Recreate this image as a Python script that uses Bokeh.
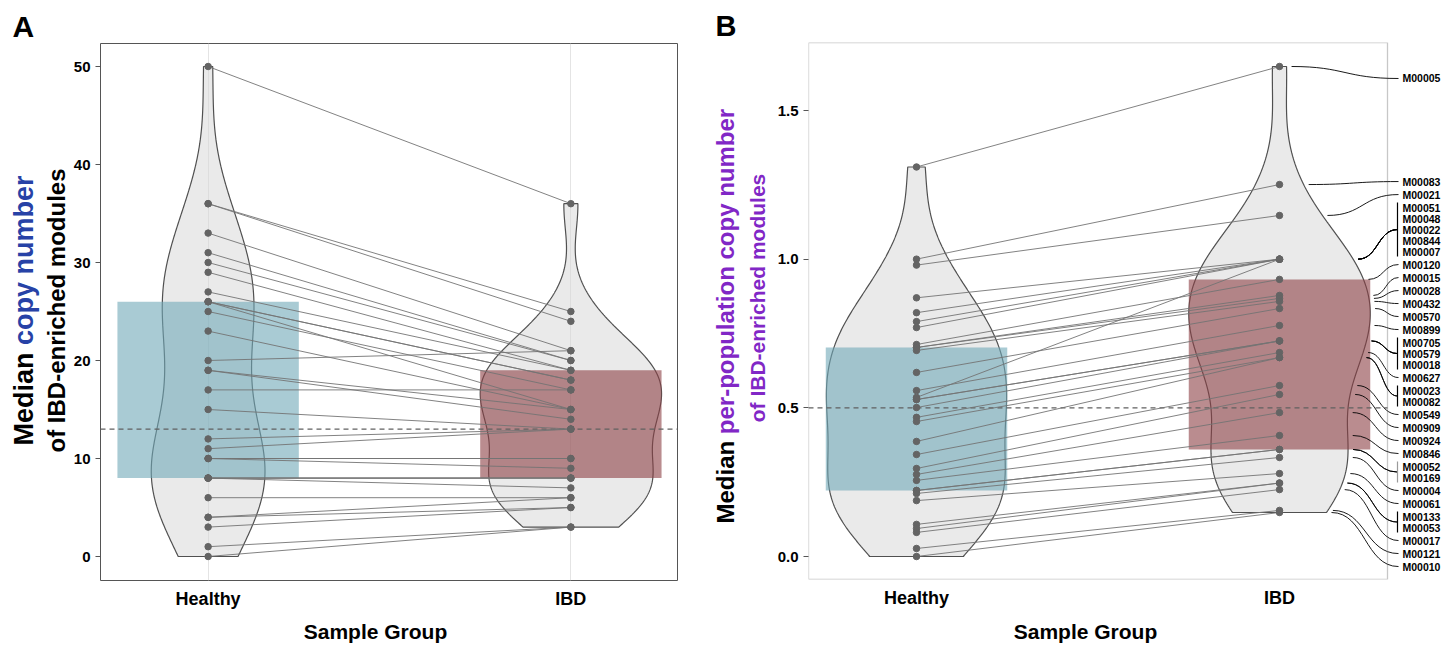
import numpy as np
from bokeh.plotting import figure
from bokeh.models import (Range1d, FixedTicker, Label, LabelSet, ColumnDataSource, BoxAnnotation, Plot, Title)
from bokeh.layouts import row, column
from bokeh.embed import file_html
from bokeh.resources import INLINE
from bokeh.core.properties import value

FONT = "Liberation Sans"

# ---------------- data ----------------
groups = ["Healthy", "IBD"]

# Panel A: median copy number (same module, Healthy -> IBD)
a_healthy = [50, 36, 36, 33, 31, 30, 29, 27, 26, 26, 26, 25, 23, 20, 19, 19, 17, 15, 12, 11,
             10, 10, 10, 8, 8, 8, 8, 6, 4, 4, 3, 1, 0]
a_ibd = [36, 25, 24, 21, 20, 20, 19, 19, 18, 18, 15, 17, 15, 21, 15, 14, 17, 13, 13, 13,
         10, 10, 9, 8, 8, 8, 7, 6, 6, 5, 5, 3, 3]
a_ref = 13
a_yticks = [0, 10, 20, 30, 40, 50]

# Panel B: median per-population copy number
b_modules = ["M00005", "M00083", "M00021", "M00051", "M00048", "M00022", "M00844", "M00007",
             "M00120", "M00015", "M00028", "M00432", "M00570", "M00899", "M00705", "M00579",
             "M00018", "M00627", "M00023", "M00082", "M00549", "M00909", "M00924", "M00846",
             "M00052", "M00169", "M00004", "M00061", "M00133", "M00053", "M00017", "M00121",
             "M00010"]
b_healthy = [1.31, 1.0, 0.98, 0.87, 0.82, 0.79, 0.77, 0.535, 0.713, 0.703, 0.703, 0.693, 0.619,
             0.558, 0.528, 0.528, 0.501, 0.468, 0.454, 0.387, 0.343, 0.296, 0.276, 0.256, 0.222,
             0.222, 0.212, 0.188, 0.108, 0.094, 0.081, 0.027, 0.0]
b_ibd = [1.648, 1.251, 1.147, 1.0, 1.0, 1.0, 1.0, 1.0, 0.932, 0.878, 0.868, 0.858, 0.834, 0.777,
         0.725, 0.725, 0.725, 0.686, 0.669, 0.669, 0.575, 0.545, 0.484, 0.407, 0.36, 0.36, 0.333,
         0.279, 0.247, 0.247, 0.225, 0.155, 0.148]
b_ref = 0.5
b_yticks = [0.0, 0.5, 1.0, 1.5]
grey_brackets = {"M00052"}

# ---------------- helpers ----------------
AB = {' ': 278, 'M': 833, 'e': 556, 'd': 611, 'i': 278, 'a': 556, 'n': 611, 'c': 556, 'o': 611,
      'p': 611, 'y': 556, 'u': 611, 'm': 889, 'b': 611, 'r': 389, '-': 333, 'l': 278, 't': 333,
      's': 556, 'f': 333, 'I': 278, 'B': 722, 'D': 722, 'h': 611}


def tw(s, size):
    return sum(AB.get(ch, 556) for ch in s) / 1000.0 * size


class Map:
    def __init__(self, left, right, top, bottom, x0, x1, y0, y1):
        self.l, self.r, self.t, self.b = left, right, top, bottom
        self.x0, self.x1, self.y0, self.y1 = x0, x1, y0, y1
        self.pxu_x = (right - left) / (x1 - x0)
        self.pxu_y = (bottom - top) / (y1 - y0)

    def x(self, px):
        return self.x0 + (px - self.l) / self.pxu_x

    def y(self, py):
        return self.y1 - (py - self.t) / self.pxu_y


def kde(vals):
    v = np.asarray(vals, float)
    sd = v.std(ddof=1)
    q75, q25 = np.percentile(v, [75, 25])
    lo = min(sd, (q75 - q25) / 1.34)
    bw = 0.9 * lo * len(v) ** -0.2

    def f(y):
        y = np.atleast_1d(np.asarray(y, float))
        return np.exp(-0.5 * ((y[:, None] - v[None, :]) / bw) ** 2).sum(1) / (len(v) * bw * np.sqrt(2 * np.pi))
    ys = np.linspace(v.min(), v.max(), 512)
    return ys, f(ys), f


def pav_nonincreasing(y, w):
    bl = []
    for yi, wi in zip(y, w):
        bl.append([yi * wi, wi, 1])
        while len(bl) > 1 and bl[-2][0] / bl[-2][1] < bl[-1][0] / bl[-1][1]:
            b = bl.pop()
            bl[-1][0] += b[0]; bl[-1][1] += b[1]; bl[-1][2] += b[2]
    out = []
    for b in bl:
        out += [b[0] / b[1]] * b[2]
    return out


def base_fig(width, height, mb, xr, yr):
    p = figure(width=width, height=height, output_backend="svg", toolbar_location=None,
               x_range=Range1d(*xr), y_range=Range1d(*yr),
               min_border_left=mb[0], min_border_right=mb[1], min_border_top=mb[2], min_border_bottom=mb[3])
    p.background_fill_color = "white"
    p.border_fill_color = "white"
    p.xaxis.ticker = FixedTicker(ticks=[1, 2])
    p.xaxis.major_label_overrides = {1: groups[0], 2: groups[1]}
    p.xaxis.axis_line_color = None
    p.xaxis.major_tick_line_color = None
    p.xaxis.minor_tick_line_color = None
    p.xaxis.major_label_standoff = 2
    p.xaxis.major_label_text_font = FONT
    p.xaxis.major_label_text_font_style = "bold"
    p.xaxis.major_label_text_font_size = "18px"
    p.xaxis.major_label_text_color = "black"
    p.yaxis.axis_line_color = None
    p.yaxis.major_tick_line_color = "#555555"
    p.yaxis.major_tick_out = 5
    p.yaxis.major_tick_in = 0
    p.yaxis.minor_tick_line_color = None
    p.yaxis.major_label_standoff = 5
    p.yaxis.major_label_text_font = FONT
    p.yaxis.major_label_text_font_style = "bold"
    p.yaxis.major_label_text_font_size = "15px"
    p.yaxis.major_label_text_color = "black"
    p.ygrid.visible = False
    return p


def text_fig(w, h, y_lo=0, y_hi=None, letter=None, letter_size=30, letter_x=0):
    # a figure that only holds text; its frame lines up with the neighbouring panel's frame,
    # so the y range is chosen so that data y = h - (pixel row from the top)
    title = None
    if letter is not None:
        title = Title(text=letter, align="left", offset=letter_x, standoff=2, text_font=FONT,
                      text_font_style="bold", text_font_size=f"{letter_size}px", text_color="black")
    return Plot(width=w, height=h, x_range=Range1d(0, w),
                y_range=Range1d(y_lo, h if y_hi is None else y_hi), min_border=0,
                toolbar_location=None, title=title, output_backend="svg", outline_line_color=None,
                background_fill_color="white", border_fill_color="white")


def text(p, x, y, s, size, color="black", align="left", angle=0.0):
    # x, y: pixel position from the text figure's top-left; text centred vertically on it
    p.add_layout(Label(x=x, y=p.height - y, text=s, text_font=FONT, text_font_style="bold",
                       text_font_size=f"{size}px", text_color=color, text_align=align,
                       text_baseline="middle", angle=angle))


VIOLIN = dict(fill_color="#d6d6d6", fill_alpha=0.5, line_color="#505050", line_width=1.2)
BOXCOL = ["#6fa8b8", "#8c3f44"]
LINECOL = "#747474"
PTCOL = "#646464"
BLUE = "#2742a6"
PURPLE = "#8127c6"
ROT = np.pi / 2


def draw_core(p, healthy, ibd, ref, x_ref_end=None):
    ys_h, d_h, f_h = kde(healthy)
    ys_i, d_i, f_i = kde(ibd)
    k = 0.25 / max(d_h.max(), d_i.max())
    for c, ys, d in [(1, ys_h, d_h), (2, ys_i, d_i)]:
        xs = np.concatenate([c + d * k, (c - d * k)[::-1]])
        yy = np.concatenate([ys, ys[::-1]])
        p.patch(xs, yy, **VIOLIN)
    for c, vals, col in [(1, healthy, BOXCOL[0]), (2, ibd, BOXCOL[1])]:
        q1, q3 = np.percentile(vals, [25, 75])
        p.quad(left=c - 0.25, right=c + 0.25, bottom=q1, top=q3, fill_color=col, fill_alpha=0.6, line_color=None)
    x_end = x_ref_end if x_ref_end is not None else p.x_range.end
    p.segment(x0=[p.x_range.start], y0=[ref], x1=[x_end], y1=[ref], line_color="#606060",
              line_dash="5 4", line_width=1.1)
    n = len(healthy)
    p.segment(x0=[1] * n, y0=healthy, x1=[2] * n, y1=ibd, line_color=LINECOL, line_width=0.9)
    p.scatter([1] * n, healthy, size=6.5, color=PTCOL)
    p.scatter([2] * n, ibd, size=6.5, color=PTCOL)
    return f_i, k


H_MAIN = 615
H_STRIP = 645 - H_MAIN

# ---------------- Panel A ----------------
TA_W = 70
A_TOP, A_BOT = 43, 580
MA = Map(98, 677, A_TOP, A_BOT, 1 - 108 / 364, 2 + 107 / 364, -24 / 9.8, 50 + 23 / 9.8)
pa = base_fig(700 - TA_W, H_MAIN, (98 - TA_W, 23, A_TOP, H_MAIN - A_BOT), (MA.x0, MA.x1), (MA.y0, MA.y1))
pa.outline_line_color = "#555555"
pa.outline_line_width = 1
pa.xgrid.ticker = FixedTicker(ticks=[1, 2])
pa.xgrid.grid_line_color = "#e4e4e4"
pa.yaxis.ticker = FixedTicker(ticks=a_yticks)
draw_core(pa, a_healthy, a_ibd, a_ref)

tA = text_fig(TA_W, H_MAIN, y_lo=H_MAIN - A_BOT, y_hi=H_MAIN - A_TOP, letter="A", letter_size=30, letter_x=12)
text(tA, 23.5, 445, "Median", 27, angle=ROT)
text(tA, 23.5, 445 - tw("Median ", 27), "copy number", 27, color=BLUE, angle=ROT)
text(tA, 55.5, 310, "of IBD-enriched modules", 24, align="center", angle=ROT)

sA = text_fig(700, H_STRIP)
text(sA, 375, 630.5 - H_MAIN, "Sample Group", 21, align="center")

# ---------------- Panel B ----------------
OX = 700
TB_W = 70
B_TOP, B_BOT = 42, 579
PXU_B = 446 / 1.5
MB = Map(808, 1452, B_TOP, B_BOT, 1 - 108 / 363, 1 + (1452 - 916) / 363, -23 / PXU_B, 1.5 + 68 / PXU_B)
pb = base_fig(755 - TB_W, H_MAIN, (808 - OX - TB_W, 3, B_TOP, H_MAIN - B_BOT), (MB.x0, MB.x1), (MB.y0, MB.y1))
pb.outline_line_color = None
pb.xgrid.visible = False
pb.yaxis.ticker = FixedTicker(ticks=b_yticks)
pb.yaxis.major_label_overrides = {t: f"{t:.1f}" for t in b_yticks}
box_r = MB.x(1387)
pb.add_layout(BoxAnnotation(left=MB.x0, right=box_r, bottom=MB.y0, top=MB.y1, fill_alpha=0,
                            line_color="#444444", line_width=1.3))
f_ib, k_ib = draw_core(pb, b_healthy, b_ibd, b_ref, x_ref_end=box_r)

# module labels with repel-like layout
blocks = []
for i, v in enumerate(b_ibd):
    if blocks and abs(blocks[-1]["v"] - v) < 1e-9:
        blocks[-1]["idx"].append(i)
    else:
        blocks.append({"v": v, "idx": [i]})
s_in = 11.0 / MB.pxu_y
s_out = 13.0 / MB.pxu_y
nudge = -12.0 / MB.pxu_y
half = [(len(b["idx"]) - 1) / 2 * s_in for b in blocks]
S = [0.0]
for k in range(1, len(blocks)):
    S.append(S[-1] + half[k - 1] + half[k] + s_out)
target = [b["v"] + nudge + S[k] for k, b in enumerate(blocks)]
dd = pav_nonincreasing(target, [len(b["idx"]) for b in blocks])
centers = [dd[k] - S[k] for k in range(len(blocks))]

lab_x, lab_y, lab_t = [], [], []
cx0, cy0, cx1, cy1, x0s, y0s, x1s, y1s = [], [], [], [], [], [], [], []
br_x0, br_y0, br_y1, br_col = [], [], [], []
xt = MB.x(1402)
x_single = MB.x(1398)
x_brk = MB.x(1397)
gap = 5 / MB.pxu_x
for b, c in zip(blocks, centers):
    n = len(b["idx"])
    for j, i in enumerate(b["idx"]):
        lab_x.append(xt)
        lab_y.append(c + s_in * ((n - 1) / 2 - j))
        lab_t.append(b_modules[i])
    xe = x_single if n == 1 else x_brk
    if n > 1:
        top = c + s_in * (n - 1) / 2 + 5 / MB.pxu_y
        bot = c - s_in * (n - 1) / 2 - 5 / MB.pxu_y
        br_x0.append(x_brk); br_y0.append(bot); br_y1.append(top)
        br_col.append("#9a9a9a" if b_modules[b["idx"][0]] in grey_brackets else "black")
    for i in b["idx"]:
        xs0 = 2 + k_ib * f_ib(b_ibd[i])[0] + gap
        xm = (xs0 + xe) / 2
        x0s.append(xs0); y0s.append(b_ibd[i]); x1s.append(xe); y1s.append(c)
        cx0.append(xm); cy0.append(b_ibd[i]); cx1.append(xm); cy1.append(c)

pb.bezier(x0=x0s, y0=y0s, x1=x1s, y1=y1s, cx0=cx0, cy0=cy0, cx1=cx1, cy1=cy1,
          line_color="black", line_width=0.9)
pb.segment(x0=br_x0, y0=br_y0, x1=br_x0, y1=br_y1, line_color=br_col, line_width=1.2)
src = ColumnDataSource(dict(x=lab_x, y=lab_y, t=lab_t))
pb.add_layout(LabelSet(x="x", y="y", text="t", source=src, text_font=value(FONT),
                       text_font_style="bold", text_font_size="10.5px", text_baseline="middle",
                       text_align="left", text_color="black"))

tB = text_fig(TB_W, H_MAIN, y_lo=H_MAIN - B_BOT, y_hi=H_MAIN - B_TOP, letter="B", letter_size=29,
              letter_x=715 - OX)
text(tB, 724.7 - OX, 523, "Median", 24, angle=ROT)
text(tB, 724.7 - OX, 523 - tw("Median ", 24), "per-population copy number", 24, color=PURPLE, angle=ROT)
text(tB, 756.5 - OX, 297.5, "of IBD-enriched modules", 21, color=PURPLE, align="center", angle=ROT)

sB = text_fig(755, H_STRIP)
text(sB, 1085 - OX, 630.5 - H_MAIN, "Sample Group", 21, align="center")

layout = row(column(row(tA, pa), sA), column(row(tB, pb), sB))
open("out.html", "w").write(file_html(layout, INLINE))
